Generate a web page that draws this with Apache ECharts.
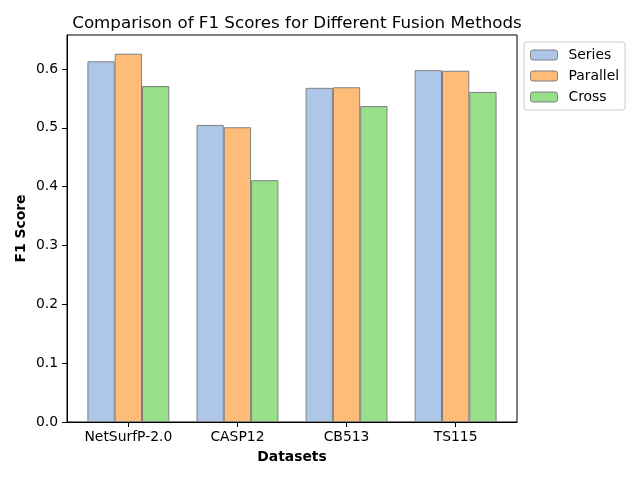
<!DOCTYPE html>
<html><head><meta charset="utf-8">
<script src="https://cdn.jsdelivr.net/npm/echarts@6/dist/echarts.min.js"></script>
<style>html,body{margin:0;padding:0;background:#fff}#c{width:640px;height:480px}</style>
</head><body><div id="c"></div>
<script>
const categories = ['NetSurfP-2.0', 'CASP12', 'CB513', 'TS115'];
const seriesNames = ['Series', 'Parallel', 'Cross'];
const seriesValues = [0.613, 0.505, 0.568, 0.598];
const parallelValues = [0.626, 0.501, 0.569, 0.597];
const crossValues = [0.571, 0.411, 0.537, 0.561];
const yTicks = [0, 0.1, 0.2, 0.3, 0.4, 0.5, 0.6];
const colors = ['#aec7e8', '#ffbb78', '#98df8a'];

const font = 'DejaVu Sans';
const allVals = [seriesValues, parallelValues, crossValues];
const chart = echarts.init(document.getElementById('c'), null, {renderer: 'canvas'});
const catIdx = categories.map((c, i) => i);
chart.setOption({
  animation: false,
  backgroundColor: '#fff',
  title: {
    text: 'Comparison of F1 Scores for Different Fusion Methods',
    left: 292, top: 10, textAlign: 'center',
    textStyle: {fontFamily: font, fontSize: 16.7, fontWeight: 'normal', color: '#000'}
  },
  legend: {
    orient: 'vertical', left: 524, top: 42,
    itemWidth: 27, itemHeight: 10, itemGap: 7,
    padding: [6, 6, 6, 6],
    borderColor: '#cccccc', borderWidth: 1, borderRadius: 3,
    textStyle: {fontFamily: font, fontSize: 13.9, color: '#000', padding: [0, 0, 0, 6]},
    data: seriesNames.map((n, i) => ({name: n, itemStyle: {color: colors[i], borderColor: '#808080', borderWidth: 1}}))
  },
  grid: {left: 67, right: 123, top: 35, bottom: 58, show: true, borderColor: '#000', borderWidth: 1, containLabel: false},
  xAxis: {
    type: 'value', min: -0.5625, max: 3.5625,
    name: 'Datasets', nameLocation: 'middle', nameGap: 28, nameMoveOverlap: false,
    nameTextStyle: {fontFamily: font, fontSize: 13.9, fontWeight: 'bold', color: '#000'},
    axisLine: {show: true, onZero: false, lineStyle: {color: '#000', width: 1}},
    axisTick: {show: true, length: 5, lineStyle: {color: '#000'}, customValues: catIdx},
    axisLabel: {customValues: catIdx, formatter: v => categories[Math.round(v)], fontFamily: font, fontSize: 13.9, color: '#000', margin: 8},
    splitLine: {show: false}
  },
  yAxis: {
    type: 'value', min: 0, max: 0.6578,
    name: 'F1 Score', nameLocation: 'middle', nameGap: 39, nameRotate: 90, nameMoveOverlap: false,
    nameTextStyle: {fontFamily: font, fontSize: 13.9, fontWeight: 'bold', color: '#000'},
    axisLine: {show: true, onZero: false, lineStyle: {color: '#000', width: 1}},
    axisTick: {show: true, length: 5, lineStyle: {color: '#000'}, customValues: yTicks},
    axisLabel: {customValues: yTicks, formatter: v => v.toFixed(1), fontFamily: font, fontSize: 13.9, color: '#000', margin: 9},
    splitLine: {show: false}
  },
  series: seriesNames.map((n, si) => ({
    name: n, type: 'bar',
    data: allVals[si].map((v, i) => [i, v]),
    barWidth: 27.3, barGap: '0%',
    itemStyle: {color: colors[si], borderColor: '#808080', borderWidth: 1}
  }))
});
</script></body></html>
